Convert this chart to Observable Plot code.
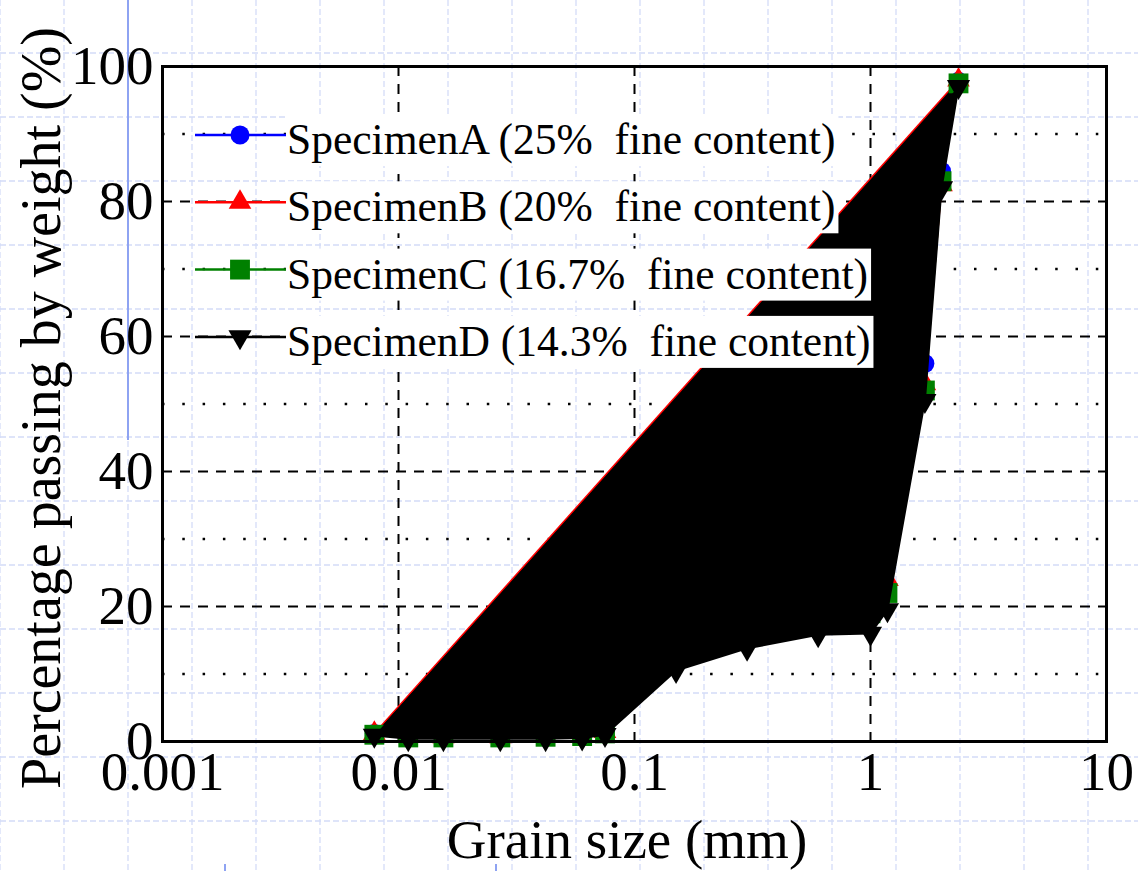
<!DOCTYPE html>
<html><head><meta charset="utf-8">
<script src="https://cdn.jsdelivr.net/npm/d3@7"></script>
<script src="https://cdn.jsdelivr.net/npm/@observablehq/plot@0.6"></script>
<style>
html,body{margin:0;padding:0;background:#fff;}
#wrap{position:relative;width:1138px;height:871px;overflow:hidden;}
#bg,#chart{position:absolute;left:0;top:0;}
text{white-space:pre;}
</style></head><body>
<div id="wrap"><svg id="bg" width="1138" height="871"></svg><div id="chart"></div></div>
<script>
// ---- data ----
const grainSize = [0.0079, 0.011, 0.0155, 0.027, 0.042, 0.06, 0.075, 0.15, 0.3, 0.6, 1.0, 1.18, 1.7, 2.0, 2.36];
const passingA = [1.2, 0.9, 0.8, 0.8, 0.9, 1.0, 1.6, 19, 22, 24, 25, 27, 56, 84.5, 97.8];
const passingB = [1.2, 0.8, 0.7, 0.7, 0.8, 0.9, 1.5, 16, 19, 21, 22, 24, 53, 82.5, 98];
const passingC = [1.0, 0.6, 0.6, 0.6, 0.7, 0.8, 1.2, 13, 16, 18, 19, 22, 52, 83, 97.5];
const passingD = [0.9, 0.4, 0.4, 0.4, 0.4, 0.5, 1.0, 10.5, 13.8, 15.8, 16, 19.5, 50.5, 82, 97];
const seriesNames = ["SpecimenA (25%  fine content)", "SpecimenB (20%  fine content)", "SpecimenC (16.7%  fine content)", "SpecimenD (14.3%  fine content)"];
const seriesColors = ["#0000ff", "#ff0000", "#008000", "#000000"];
const xTicks = [0.001, 0.01, 0.1, 1, 10];
const xTickLabels = ["0.001", "0.01", "0.1", "1", "10"];
const xGridTicks = [0.01, 0.1, 1];
const yTicks = [0, 20, 40, 60, 80, 100];
const yGridTicks = [20, 40, 60, 80];
const yMinorTicks = [10, 30, 50, 70, 90];
const xTitle = "Grain size (mm)";
const yTitle = "Percentage passing by weight (%)";

// ---- background paper grid ----
const W = 1138, H = 871;
const bg = d3.select("#bg");
for (let x = 0; x <= W; x += 64) bg.append("line").attr("x1", x).attr("x2", x).attr("y1", 0).attr("y2", H)
  .attr("stroke", "#d4dcf8").attr("stroke-width", 1.3).attr("stroke-dasharray", "6,3");
for (let y = 53 - 64; y <= H; y += 64) bg.append("line").attr("y1", y).attr("y2", y).attr("x1", 0).attr("x2", W)
  .attr("stroke", "#d4dcf8").attr("stroke-width", 1.3).attr("stroke-dasharray", "6,3");
bg.append("line").attr("x1", 128).attr("x2", 128).attr("y1", 0).attr("y2", 440).attr("stroke", "#8ea3f2").attr("stroke-width", 2);
[225, 496].forEach(x => bg.append("line").attr("x1", x).attr("x2", x).attr("y1", 864).attr("y2", 871).attr("stroke", "#8ea3f2").attr("stroke-width", 2));

// ---- symbols ----
const triangleDown = {
  draw(context, size) {
    const y = -Math.sqrt(size / (Math.sqrt(3) * 3));
    context.moveTo(0, -y * 2);
    context.lineTo(-Math.sqrt(3) * y, y);
    context.lineTo(Math.sqrt(3) * y, y);
    context.closePath();
  }
};
const seriesValues = [passingA, passingB, passingC, passingD];
const seriesSymbols = [d3.symbolCircle, d3.symbolTriangle, d3.symbolSquare, triangleDown];
const seriesR = [9.5, 8.4, 11.2, 8.6];

const seriesMarks = [];
seriesValues.forEach((vals, k) => {
  const rows = grainSize.map((g, i) => ({g, v: vals[i]}));
  seriesMarks.push(Plot.line(rows, {x: "g", y: "v", fill: "black", stroke: seriesColors[k], strokeWidth: 2}));
  seriesMarks.push(Plot.dot(rows, {x: "g", y: "v", symbol: seriesSymbols[k], r: seriesR[k], fill: seriesColors[k], stroke: "none"}));
  if (k === 1) {
    const n = grainSize.length - 1;
    seriesMarks.push(Plot.link([0], {x1: () => grainSize[0], y1: () => passingB[0], x2: () => grainSize[n], y2: () => passingB[n], stroke: "#ff0000", strokeWidth: 1.5}));
  }
});

const font = "'Liberation Serif', 'Times New Roman', serif";
const plot = Plot.plot({
  width: W, height: H,
  marginLeft: 162, marginRight: 32, marginTop: 66, marginBottom: 130,
  style: {fontFamily: font, background: "transparent", overflow: "visible", color: "black"},
  x: {type: "log", domain: [0.001, 10]},
  y: {domain: [0, 100]},
  marks: [
    Plot.gridY(yMinorTicks, {stroke: "black", strokeOpacity: 1, strokeWidth: 2.5, strokeDasharray: "2.5,17.8"}),
    Plot.gridY(yGridTicks, {stroke: "black", strokeOpacity: 1, strokeWidth: 2, strokeDasharray: "10,8"}),
    Plot.gridX(xGridTicks, {stroke: "black", strokeOpacity: 1, strokeWidth: 2, strokeDasharray: "10,8"}),
    ...seriesMarks,
    Plot.frame({stroke: "black", strokeWidth: 3}),
    Plot.axisX(xTicks, {tickFormat: d => xTickLabels[xTicks.indexOf(d)], tickSize: 0, tickPadding: 9, fontSize: 55, label: null}),
    Plot.axisY(yTicks, {tickSize: 0, tickPadding: 9, fontSize: 55, label: null})
  ]
});
document.getElementById("chart").appendChild(plot);

// ---- axis titles & legend ----
const svg = d3.select(plot);
svg.append("text").attr("x", 627).attr("y", 858).attr("text-anchor", "middle")
  .attr("font-family", font).attr("font-size", 55).attr("fill", "black").text(xTitle);
svg.append("text").attr("transform", "translate(60,408) rotate(-90)").attr("text-anchor", "middle")
  .attr("font-family", font).attr("font-size", 56).attr("fill", "black").text(yTitle);

const lg = svg.append("g").attr("text-anchor", "start");
seriesNames.forEach((name, i) => {
  const cy = 135 + i * 67.3;
  const g = lg.append("g");
  g.append("line").attr("x1", 195).attr("x2", 286).attr("y1", cy).attr("y2", cy)
    .attr("stroke", seriesColors[i]).attr("stroke-width", 2.5);
  g.append("path").attr("d", d3.symbol(seriesSymbols[i], Math.PI * seriesR[i] * seriesR[i])())
    .attr("transform", `translate(240,${cy})`).attr("fill", seriesColors[i]);
  const t = g.append("text").attr("x", 287).attr("y", cy + 19).attr("text-anchor", "start")
    .attr("font-family", font).attr("font-size", 43.5).attr("fill", "black").text(name);
  const bb = t.node().getBBox();
  g.insert("rect", "text").attr("x", bb.x - 1).attr("y", bb.y - 1).attr("width", bb.width + 4).attr("height", bb.height + 3).attr("fill", "white");
});
</script>
</body></html>
